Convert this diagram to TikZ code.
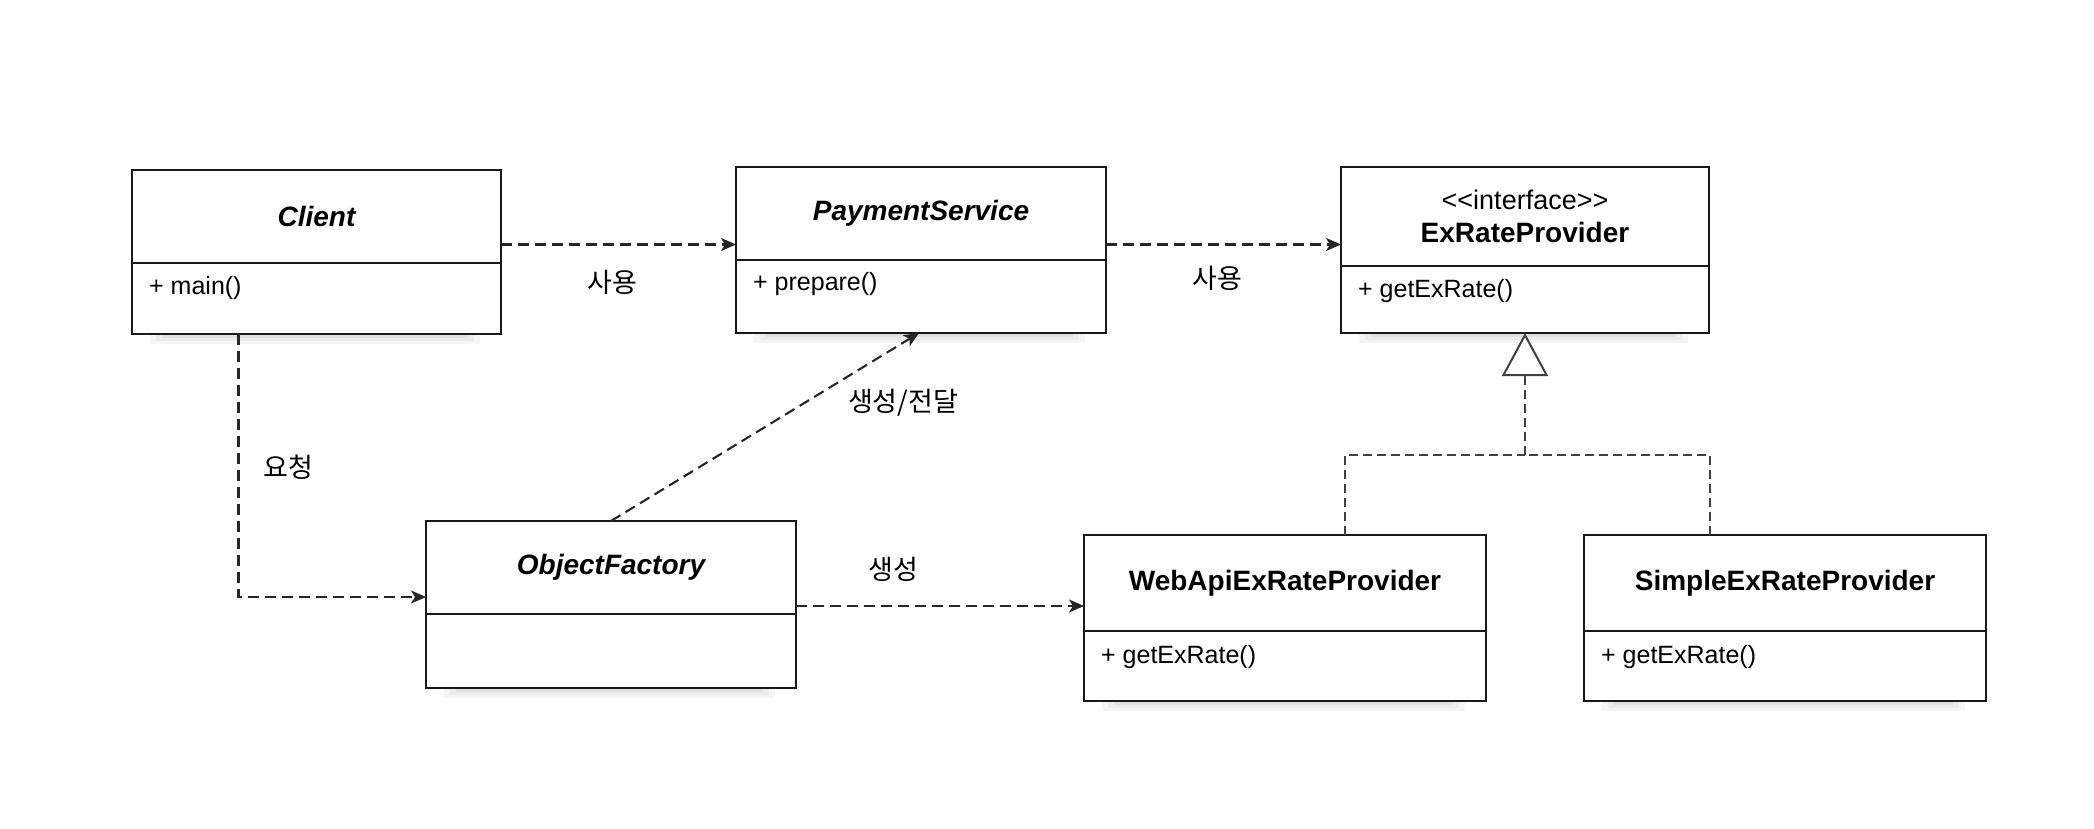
\documentclass[tikz,border=0pt]{standalone}
\usepackage{fontspec}
\setmainfont{Liberation Sans}
\newfontfamily\kr{Noto Sans CJK KR}
\usetikzlibrary{arrows.meta,calc}
\begin{document}
\begin{tikzpicture}[x=1pt,y=-1pt,
  box/.style={draw=black!90, line width=2pt, fill=white, anchor=north west, inner sep=0pt, outer sep=0pt, align=center},
  ttl/.style={box, font=\fontsize{28}{33}\selectfont\bfseries},
  ittl/.style={ttl, font=\fontsize{28}{33}\selectfont\bfseries\itshape},
  member/.style={anchor=west, inner sep=0pt, font=\fontsize{25}{30}\selectfont},
  lbl/.style={inner sep=0pt, font=\kr\fontsize{27}{32}\selectfont},
  dep/.style={draw=black!85, line width=2.1pt, dash pattern=on 11pt off 6pt, -{Stealth[length=15pt, width=13pt, inset=4pt]}},
  real/.style={draw=black!75, line width=1.5pt, dash pattern=on 9pt off 5pt},
  gen/.style={real, -{Triangle[length=43pt, width=46pt, fill=white, line width=2pt]}}
]
\useasboundingbox (0,0) rectangle (2094,828);
\fill[white] (0,0) rectangle (2094,828);

% shadows
\foreach \sx/\sy/\ex in {150/334/480, 754/333/1085, 1359/333/1688, 444/688/775, 1102/701/1465, 1602/701/1965}{
  \fill[black, opacity=0.04] (\sx,\sy+1) rectangle (\ex,\sy+10);
  \fill[black, opacity=0.04] (\sx+6,\sy+1) rectangle (\ex-6,\sy+7);
  \fill[black, opacity=0.04] (\sx+12,\sy+1) rectangle (\ex-12,\sy+4);
}

% Client
\node[ittl, minimum width=369pt, minimum height=93pt] (client) at (132,170) {Client};
\node[box, minimum width=369pt, minimum height=71pt] (clientB) at (client.south west) {};
\node[member] at ([xshift=17pt,yshift=-25pt]clientB.north west) {+ main()};

% PaymentService
\node[ittl, minimum width=370pt, minimum height=93pt] (ps) at (736,167) {PaymentService};
\node[box, minimum width=370pt, minimum height=73pt] (psB) at (ps.south west) {};
\node[member] at ([xshift=17pt,yshift=-24pt]psB.north west) {+ prepare()};

% ExRateProvider
\node[ttl, minimum width=368pt, minimum height=99pt] (exr) at (1341,167) {{\mdseries\fontsize{27}{33}\selectfont <\kern0pt<interface>\kern0pt>}\\ExRateProvider};
\node[box, minimum width=368pt, minimum height=67pt] (exrB) at (exr.south west) {};
\node[member] at ([xshift=17pt,yshift=-25pt]exrB.north west) {+ getExRate()};

% ObjectFactory
\node[ittl, minimum width=370pt, minimum height=93pt] (of) at (426,521) {ObjectFactory};
\node[box, minimum width=370pt, minimum height=74pt] (ofB) at (of.south west) {};

% WebApiExRateProvider
\node[ttl, minimum width=402pt, minimum height=96pt] (web) at (1084,535) {WebApiExRateProvider};
\node[box, minimum width=402pt, minimum height=70pt] (webB) at (web.south west) {};
\node[member] at ([xshift=17pt,yshift=-26pt]webB.north west) {+ getExRate()};

% SimpleExRateProvider
\node[ttl, minimum width=402pt, minimum height=96pt] (simple) at (1584,535) {SimpleExRateProvider};
\node[box, minimum width=402pt, minimum height=70pt] (simpleB) at (simple.south west) {};
\node[member] at ([xshift=17pt,yshift=-26pt]simpleB.north west) {+ getExRate()};

% connectors
\draw[dep] ([yshift=-28pt]client.east) -- ([yshift=-28pt]client.east -| ps.west);
\draw[dep] ([yshift=-31pt]ps.east) -- ([yshift=-31pt]ps.east -| exr.west);
\draw[dep] ([xshift=-78pt]clientB.south) |- ([yshift=-29.5pt]of.west);
\draw[dep] (of.north) -- ([xshift=-2pt]psB.south);
\draw[dep] ([yshift=-38.5pt]of.east) -- ([yshift=-38.5pt]of.east -| web.west);

\coordinate (j) at ($(exrB.south)+(0,122)$);
\draw[real] ([xshift=60pt]web.north) |- (j);
\draw[real] ([xshift=-75pt]simple.north) |- (j);
\draw[gen] (j) -- (exrB.south);

% labels
\node[lbl] at (612,282) {사용};
\node[lbl] at (1217,278) {사용};
\node[lbl] at (288,467) {요청};
\node[lbl] at (903,403) {생성/전달};
\node[lbl] at (893,569) {생성};
\end{tikzpicture}
\end{document}
